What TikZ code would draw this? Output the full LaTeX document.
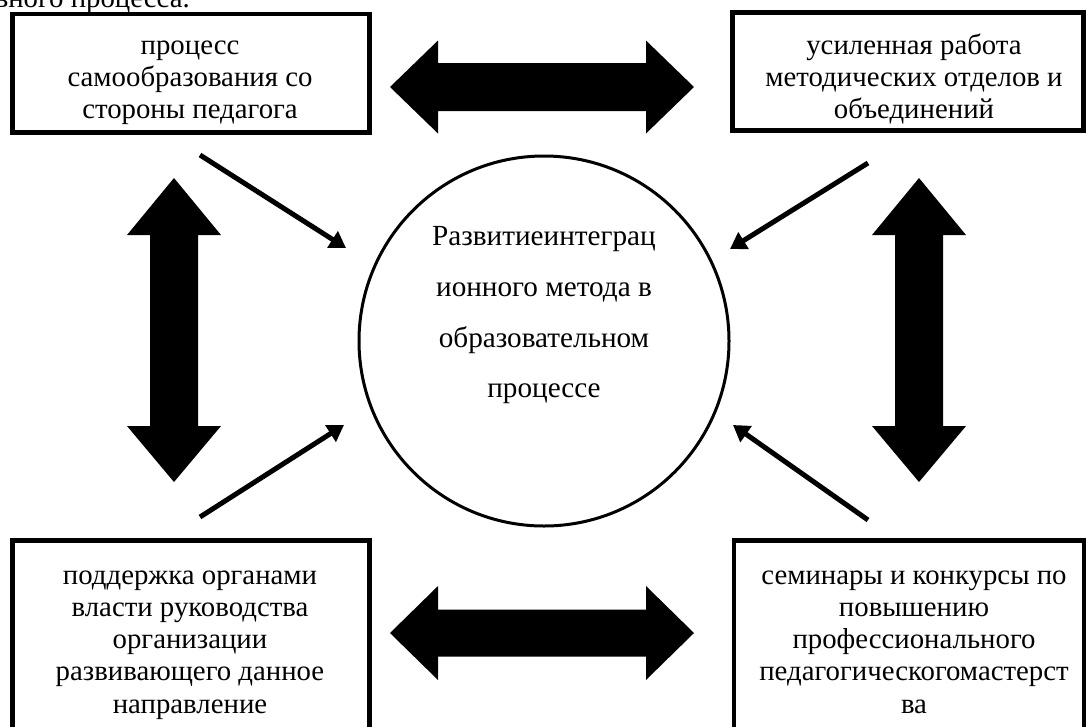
\documentclass[tikz,border=0pt]{standalone}
\usepackage{fontspec}
\setmainfont{Liberation Serif}
\usetikzlibrary{arrows.meta}
\begin{document}
\begin{tikzpicture}[x=1pt,y=-1pt,
  boxframe/.style={draw, line width=4.5pt, rectangle, inner sep=0pt},
  boxtext/.style={anchor=north, align=center, inner sep=0pt, font=\fontsize{28.8}{32.2}\selectfont},
  circtext/.style={anchor=north, align=center, inner sep=0pt, font=\fontsize{29.2}{50.7}\selectfont},
  thinarrow/.style={line width=5pt, -{Triangle[length=16pt,width=19pt]}},
  bigarrow/.style={fill=black},
]
\useasboundingbox (0,0) rectangle (1086,726);
\clip (0,0) rectangle (1086,726);
\fill[white] (0,0) rectangle (1086,726);

% clipped line of the surrounding page
\node[anchor=base east, inner sep=0pt, font=\fontsize{28.8}{32}\selectfont] (hdr) at (190,7) {образовательного процесса.};

% boxes
\node[boxframe, minimum width=357pt, minimum height=118.5pt] (b1) at (191,73.25) {};
\node[boxframe, minimum width=351pt, minimum height=118pt] (b2) at (908,71.5) {};
\node[boxframe, minimum width=357pt, minimum height=240pt] (b3) at (191,660.5) {};
\node[boxframe, minimum width=350pt, minimum height=240pt] (b4) at (909,660.5) {};

% box texts
\node[boxtext] (t1) at (190,31.5) {\strut процесс\\самообразования со\\стороны педагога};
\node[boxtext] (t2) at (914,31.5) {\strut усиленная работа\\методических отделов и\\объединений};
\node[boxtext] (t3) at (190,561.5) {\strut поддержка органами\\власти руководства\\организации\\развивающего данное\\направление};
\node[boxtext] (t4) at (914,561.5) {\strut семинары и конкурсы по\\повышению\\профессионального\\педагогическогомастерст\\ва};

% central circle
\node[circle, draw, line width=3pt, minimum size=370pt, inner sep=0pt] (c) at (544,341) {};
\node[circtext] (ct) at (544,210) {\strut Развитиеинтеграц\\ионного метода в\\образовательном\\процессе};

% thin arrows
\coordinate (s1) at (200,155);  \coordinate (e1) at (346,248);
\coordinate (s2) at (200,517);  \coordinate (e2) at (344,425);
\coordinate (s3) at (868,163);  \coordinate (e3) at (730,249);
\coordinate (s4) at (868,520);  \coordinate (e4) at (733,425);
\draw[thinarrow] (s1) -- (e1);
\draw[thinarrow] (s2) -- (e2);
\draw[thinarrow] (s3) -- (e3);
\draw[thinarrow] (s4) -- (e4);

% big double arrows (horizontal)
\fill[bigarrow] (390,87) -- (438,40.5) -- (438,63) -- (646,63) -- (646,40.5) -- (694,87)
  -- (646,133.5) -- (646,111) -- (438,111) -- (438,133.5) -- cycle;
\fill[bigarrow] (390,633) -- (438,586) -- (438,609.5) -- (646,609.5) -- (646,586) -- (694,633)
  -- (646,680) -- (646,656.5) -- (438,656.5) -- (438,680) -- cycle;
% big double arrows (vertical)
\fill[bigarrow] (174,178) -- (221,235) -- (198,235) -- (198,426) -- (221,426) -- (174,482)
  -- (127,426) -- (150,426) -- (150,235) -- (127,235) -- cycle;
\fill[bigarrow] (919,178) -- (966,235) -- (943,235) -- (943,426) -- (966,426) -- (919,482)
  -- (872,426) -- (895,426) -- (895,235) -- (872,235) -- cycle;
\end{tikzpicture}
\end{document}
